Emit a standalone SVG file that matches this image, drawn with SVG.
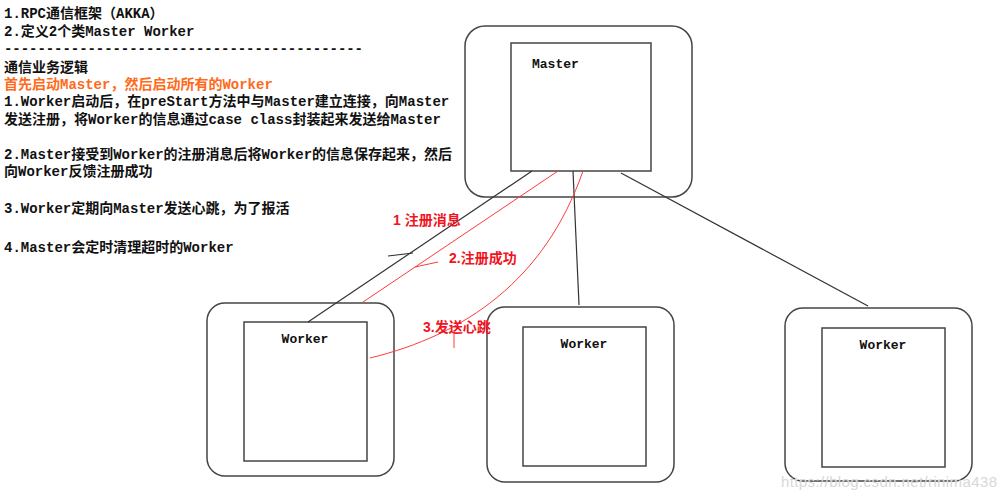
<svg xmlns="http://www.w3.org/2000/svg" width="1006" height="500" viewBox="0 0 1006 500">
<style>
.t{font-family:"Liberation Mono","Noto Sans CJK SC",monospace;font-size:14px;font-weight:bold;fill:#111}
.o{fill:#ff6a1a}
.lbl{font-family:"Liberation Mono","Noto Sans CJK SC",monospace;font-size:13px;font-weight:bold;fill:#111}
.rl{font-family:"Liberation Sans","Noto Sans CJK SC",sans-serif;font-size:14px;font-weight:bold;fill:#f0141e}
.outer{fill:none;stroke:#444;stroke-width:1.5}
.inner{fill:#fff;stroke:#444;stroke-width:1.5}
.bk{fill:none;stroke:#333;stroke-width:1.2}
.rd{fill:none;stroke:#ff3a3a;stroke-width:1}
.wm{font-family:"Liberation Sans",sans-serif;font-size:15px;fill:#d8d8d8}
</style>
<rect width="1006" height="500" fill="#fff"/>
<g id="notes">
<text class="t" x="4" y="18">1.RPC通信框架（AKKA）</text>
<text class="t" x="4" y="36">2.定义2个类Master Worker</text>
<text class="t" x="4" y="53" textLength="359" lengthAdjust="spacing">-------------------------------------------</text>
<text class="t" x="4" y="72">通信业务逻辑</text>
<text class="t o" x="4" y="89">首先启动Master，然后启动所有的Worker</text>
<text class="t" x="4" y="106">1.Worker启动后，在preStart方法中与Master建立连接，向Master</text>
<text class="t" x="4" y="124">发送注册，将Worker的信息通过case class封装起来发送给Master</text>
<text class="t" x="4" y="159">2.Master接受到Worker的注册消息后将Worker的信息保存起来，然后</text>
<text class="t" x="4" y="176">向Worker反馈注册成功</text>
<text class="t" x="4" y="213">3.Worker定期向Master发送心跳，为了报活</text>
<text class="t" x="4" y="252">4.Master会定时清理超时的Worker</text>
</g>
<g id="master">
<rect class="outer" x="465" y="26" width="227" height="171" rx="20"/>
<rect class="inner" x="511" y="43" width="140" height="128"/>
<text class="lbl" x="532" y="68">Master</text>
</g>
<g id="worker1">
<rect class="outer" x="207" y="303" width="187" height="173" rx="18"/>
<rect class="inner" x="244" y="322" width="123" height="139"/>
<text class="lbl" x="305" y="343" text-anchor="middle">Worker</text>
</g>
<g id="worker2">
<rect class="outer" x="487" y="307" width="187" height="175" rx="18"/>
<rect class="inner" x="523" y="327" width="123" height="139"/>
<text class="lbl" x="584" y="348" text-anchor="middle">Worker</text>
</g>
<g id="worker3">
<rect class="outer" x="785" y="308" width="187" height="173" rx="18"/>
<rect class="inner" x="822" y="328" width="123" height="139"/>
<text class="lbl" x="883" y="349" text-anchor="middle">Worker</text>
</g>
<g id="connectors">
<line class="bk" x1="532" y1="171" x2="308" y2="322"/>
<line class="bk" x1="388" y1="256" x2="413" y2="253"/>
<line class="bk" x1="573" y1="171" x2="579" y2="305"/>
<line class="bk" x1="621" y1="173" x2="868" y2="306"/>
<line class="rd" x1="558" y1="171" x2="363" y2="302"/>
<line class="rd" x1="415" y1="267" x2="438" y2="262"/>
<path class="rd" d="M583,171 C545,280 465,335 370,358"/>
<line class="rd" x1="454" y1="332" x2="454" y2="348"/>
</g>
<g id="labels">
<text class="rl" x="393" y="225">1 注册消息</text>
<text class="rl" x="449" y="263">2.注册成功</text>
<text class="rl" x="423" y="332">3.发送心跳</text>
</g>
<text class="wm" x="781" y="487" textLength="216">https://blog.csdn.net/rinima438</text>
</svg>
